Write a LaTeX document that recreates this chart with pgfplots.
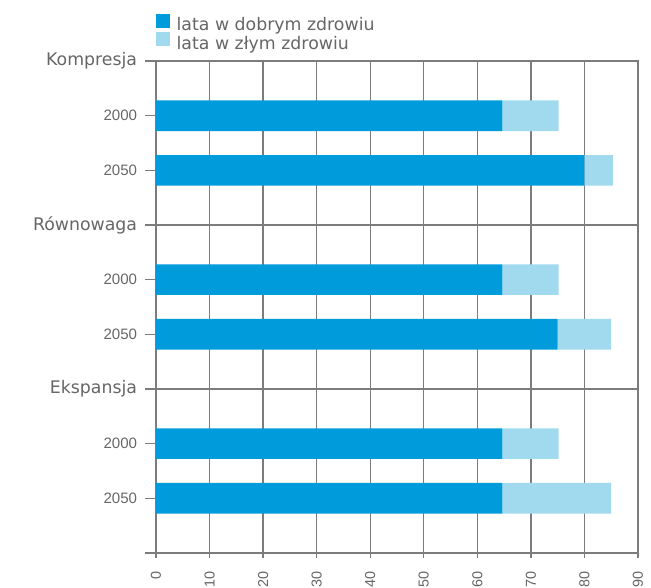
\documentclass[border=0pt]{standalone}
\usepackage{fontspec}
\setmainfont{Liberation Sans}
\newfontfamily\dv{DejaVu Sans}
\usepackage{pgfplots}
\pgfplotsset{compat=1.18}
\definecolor{darkb}{HTML}{009BDB}
\definecolor{lightb}{HTML}{A1DAEE}
\definecolor{txt}{HTML}{666666}
\definecolor{gridc}{HTML}{7C7C7C}
\newcommand\lbl[1]{{\dv\fontsize{13}{15}\selectfont #1}}
\begin{document}
\begin{tikzpicture}
\begin{axis}[
  name=ax,
  scale only axis,
  width=361.5pt, height=369pt,
  xbar stacked,
  bar width=23pt,
  xmin=0, xmax=90, ymin=0, ymax=9,
  xtick={0,10,...,90},
  xticklabels={0,10,20,30,40,50,60,70,80,90},
  ytick={0,1,2,3,4,5,6,7,8,9},
  yticklabels={{},2050,2000,\lbl{Ekspansja},2050,2000,\lbl{Równowaga},2050,2000,\lbl{Kompresja}},
  extra y ticks={3,6},
  extra y tick labels={},
  extra y tick style={grid=major},
  xmajorgrids,
  grid style={gridc, line width=1pt},
  axis line style={gridc, line width=1pt},
  every tick/.style={gridc, line width=1pt},
  tick align=outside,
  major tick length=8pt,
  xtick style={/pgfplots/major tick length=3.5pt},
  xtick pos=bottom,
  ytick pos=left,
  yticklabel shift=6pt,
  xticklabel shift=6pt,
  yticklabel style={font=\fontsize{11.3}{13}\selectfont, text=txt, inner sep=0pt, anchor=east},
  xticklabel style={font=\fontsize{10.8}{12}\selectfont, text=txt, inner sep=0pt, rotate=90, anchor=east},
  legend style={at={(0,1)}, anchor=south west, yshift=6.5pt, draw=none, fill=none,
    inner sep=0pt, outer sep=0pt, row sep=-1.25pt, column sep=5pt,
    font=\dv\fontsize{13}{15}\selectfont, text=txt,
    nodes={inner sep=0pt, text height=9.5pt, text depth=2.5pt}},
  legend cell align=left,
]
\addplot[fill=darkb, draw=none,
  legend image code/.code={\fill[darkb] (0pt,-1.5pt) rectangle (10.5pt,9pt);}]
  coordinates {(64.7,8) (80,7) (64.7,5) (75,4) (64.7,2) (64.7,1)};
\addplot[fill=lightb, draw=none,
  legend image code/.code={\fill[lightb] (0pt,-1.5pt) rectangle (10.5pt,9pt);}]
  coordinates {(10.5,8) (5.3,7) (10.5,5) (10,4) (10.5,2) (20.3,1)};
\legend{lata w dobrym zdrowiu, lata w złym zdrowiu}
\end{axis}
\pgfresetboundingbox
\path[use as bounding box] ([shift={(-117pt,-26.25pt)}]ax.south west) rectangle ([shift={(371.25pt,414.75pt)}]ax.south west);
\end{tikzpicture}
\end{document}
